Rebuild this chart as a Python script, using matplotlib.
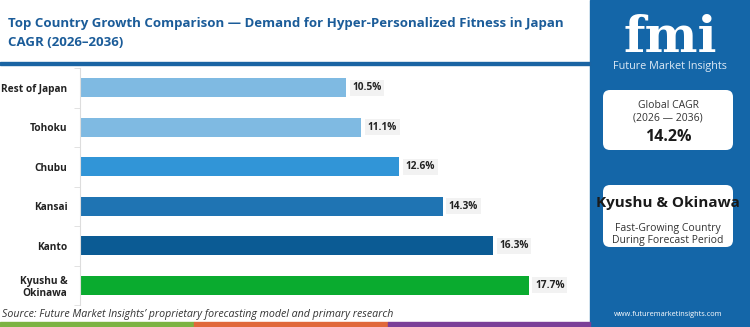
import matplotlib
matplotlib.use("Agg")
import matplotlib.pyplot as plt
from matplotlib.patches import Rectangle, FancyBboxPatch

# data
regions = ["Rest of Japan", "Tohoku", "Chubu", "Kansai", "Kanto", "Kyushu &\nOkinawa"]
cagr = [10.5, 11.1, 12.6, 14.3, 16.3, 17.7]
bar_colors = ["#7fbae2", "#7fbae2", "#3195d7", "#1f74b3", "#0b5b94", "#0aab2f"]
title = "Top Country Growth Comparison \u2014 Demand for Hyper-Personalized Fitness in Japan\nCAGR (2026\u20132036)"
source = "Source: Future Market Insights\u2019 proprietary forecasting model and primary research"
global_cagr = "14.2%"
top_region = "Kyushu & Okinawa"

W, H = 750, 327
plt.rcParams["font.family"] = ["Open Sans", "DejaVu Sans"]
fig = plt.figure(figsize=(W / 100, H / 100), dpi=100)
fig.patch.set_facecolor("white")

def px(x, y, w, h):
    return [x / W, 1 - (y + h) / H, w / W, h / H]

# backdrop: right blue panel, bottom strip, title rule
bg = fig.add_axes([0, 0, 1, 1])
bg.set_xlim(0, W)
bg.set_ylim(H, 0)
bg.axis("off")
blue = "#1466a8"
bg.add_patch(Rectangle((590, 0), 160, H, color=blue))
bg.add_patch(Rectangle((0, 62), 590, 3, color="#1a64a3"))
bg.add_patch(Rectangle((0, 322), 194, 5, color="#7cb342"))
bg.add_patch(Rectangle((194, 322), 194, 5, color="#e0683a"))
bg.add_patch(Rectangle((388, 322), 202, 5, color="#7b3f98"))
bg.text(8, 33, title, fontsize=9.5, fontweight="bold", color="#1b5c99",
        va="center", ha="left", linespacing=1.6)
bg.text(2, 315, source, fontsize=7.7, style="italic", color="#333333",
        va="center", ha="left")

# logo
bg.text(670, 52, "fmi", fontsize=36, fontweight="bold", family="DejaVu Serif",
        color="white", ha="center", va="baseline")
for yy in range(14, 53, 4):
    bg.add_patch(Rectangle((610, yy), 120, 1.3, color=blue))
bg.text(670, 67, "Future Market Insights", fontsize=7.8, color="#dce9f5",
        ha="center", va="center")

# info boxes
for (y0, h0) in [(90, 60), (185, 62)]:
    bg.add_patch(FancyBboxPatch((603, y0), 130, h0, boxstyle="round,pad=0,rounding_size=7",
                                facecolor="white", edgecolor="none"))
bg.text(668, 106, "Global CAGR", fontsize=7.5, color="#333333", ha="center", va="center")
bg.text(668, 118, "(2026 \u2014 2036)", fontsize=7.5, color="#333333", ha="center", va="center")
bg.text(668, 137, global_cagr, fontsize=11.5, fontweight="bold", color="#1a1a1a",
        ha="center", va="center")
t = bg.text(668, 203, top_region, fontsize=11, fontweight="bold", color="#1a1a1a",
            ha="center", va="center")
t.set_clip_path(Rectangle((605, 185), 126, 62, transform=bg.transData))
bg.text(668, 228, "Fast-Growing Country", fontsize=7.5, color="#333333", ha="center", va="center")
bg.text(668, 241, "During Forecast Period", fontsize=7.5, color="#333333", ha="center", va="center")
bg.text(668, 314, "www.futuremarketinsights.com", fontsize=5.3, color="white",
        ha="center", va="center")

# bar chart
ax = fig.add_axes(px(80, 68, 500, 237))
y = list(range(len(regions)))
ax.barh(y, cagr, height=0.48, color=bar_colors)
ax.set_xlim(0, 500 / 25.35)
ax.set_ylim(len(regions) - 0.5, -0.5)
ax.set_yticks(y)
ax.set_yticklabels(regions, fontsize=7.3, fontweight="bold", color="#222222")
ax.set_yticks([i + 0.5 for i in range(-1, len(regions))], minor=True)
ax.tick_params(axis="y", which="major", length=0, pad=9)
ax.tick_params(axis="y", which="minor", length=4, color="#dddddd")
ax.set_xticks([])
for s in ["top", "right", "bottom"]:
    ax.spines[s].set_visible(False)
ax.spines["left"].set_color("#dddddd")
ax.patch.set_alpha(0)
for yi, v in zip(y, cagr):
    ax.text(v + 0.25, yi, f"{v:.1f}%", fontsize=7.3, fontweight="bold", color="#222222",
            va="center", ha="left",
            bbox=dict(boxstyle="square,pad=0.25", facecolor="#f2f2f2", edgecolor="none"))

fig.savefig("out.png", dpi=100)
